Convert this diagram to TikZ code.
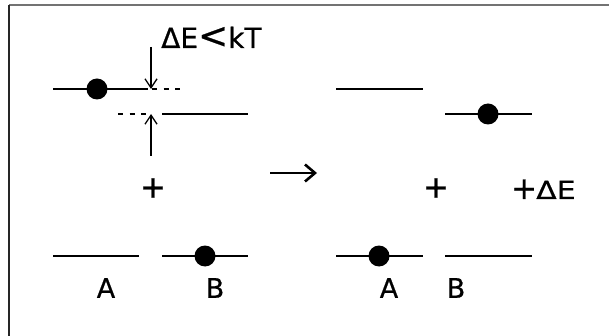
\documentclass[tikz,border=0pt]{standalone}
\usepackage{fontspec}
\setmainfont[FakeBold=0.6]{DejaVu Sans}
\newfontfamily\widefont[FakeStretch=1.2,FakeBold=0.6]{DejaVu Sans}
\usetikzlibrary{arrows.meta}
\begin{document}
\begin{tikzpicture}[x=1pt,y=-1pt,
  level/.style={line width=2.2pt},
  dashlevel/.style={line width=2pt,dash pattern=on 5pt off 6.5pt},
  electron/.style={fill=black,circle,inner sep=0pt,minimum size=21pt},
  gap/.style={line width=1.3pt,-{Straight Barb[length=9pt,width=12pt,line width=1.3pt]}},
  lbl/.style={font=\fontsize{27}{27}\selectfont,inner sep=0pt},
  sym/.style={font=\fontsize{31}{31}\selectfont,inner sep=0pt}]
\useasboundingbox (0,0) rectangle (609,336);
% frame edges
\draw[line width=2pt,black!55] (9,5) -- (609,5);
\draw[line width=2pt,black!85] (9,5) -- (9,336);

% initial state: donor level above, acceptor level below
\draw[level] (53,89) -- (148,89);
\node[electron] (e1) at (97,89) {};
\draw[dashlevel] (152,89) -- (184,89);
\draw[dashlevel] (118,114) -- (150,114);
\draw[level] (162,114) -- (248,114);
\coordinate (dtop) at (151,47);
\coordinate (dhit) at (151,89);
\coordinate (ubot) at (151,156);
\coordinate (uhit) at (151,114);
\draw[gap] (dtop) -- (dhit);
\draw[gap] (ubot) -- (uhit);
\node[inner sep=0pt,anchor=base west] (cond) at (161,48)
  {\fontsize{28}{28}\selectfont ΔE\fontsize{36}{36}\selectfont<\fontsize{28}{28}\selectfont kT};

\node[sym] (p1) at (153,188) {+};

\draw[level] (53,256) -- (139,256);
\draw[level] (162,256) -- (248,256);
\node[electron] (e2) at (205,256) {};
\node[lbl] (la1) at (106,288) {A};
\node[lbl] (lb1) at (215,288) {B};

% reaction arrow
\coordinate (ra) at (270,173);
\coordinate (rb) at (317,173);
\draw[line width=2.8pt,-{Straight Barb[length=10pt,width=17pt,line width=2.6pt]}] (ra) -- (rb);

% final state
\draw[level] (336,89) -- (423,89);
\draw[level] (445,114) -- (532,114);
\node[electron] (e3) at (488,114) {};

\node[sym] (p2) at (436,188) {+};
\node[inner sep=0pt,anchor=base west] (de) at (511,199)
  {\fontsize{31}{31}\selectfont+\hspace{-1pt}\widefont\fontsize{25}{25}\selectfont ΔE};

\draw[level] (336,256) -- (423,256);
\node[electron] (e4) at (379,256) {};
\draw[level] (445,256) -- (532,256);
\node[lbl] (la2) at (389,288) {A};
\node[lbl] (lb2) at (456,288) {B};
\end{tikzpicture}
\end{document}
